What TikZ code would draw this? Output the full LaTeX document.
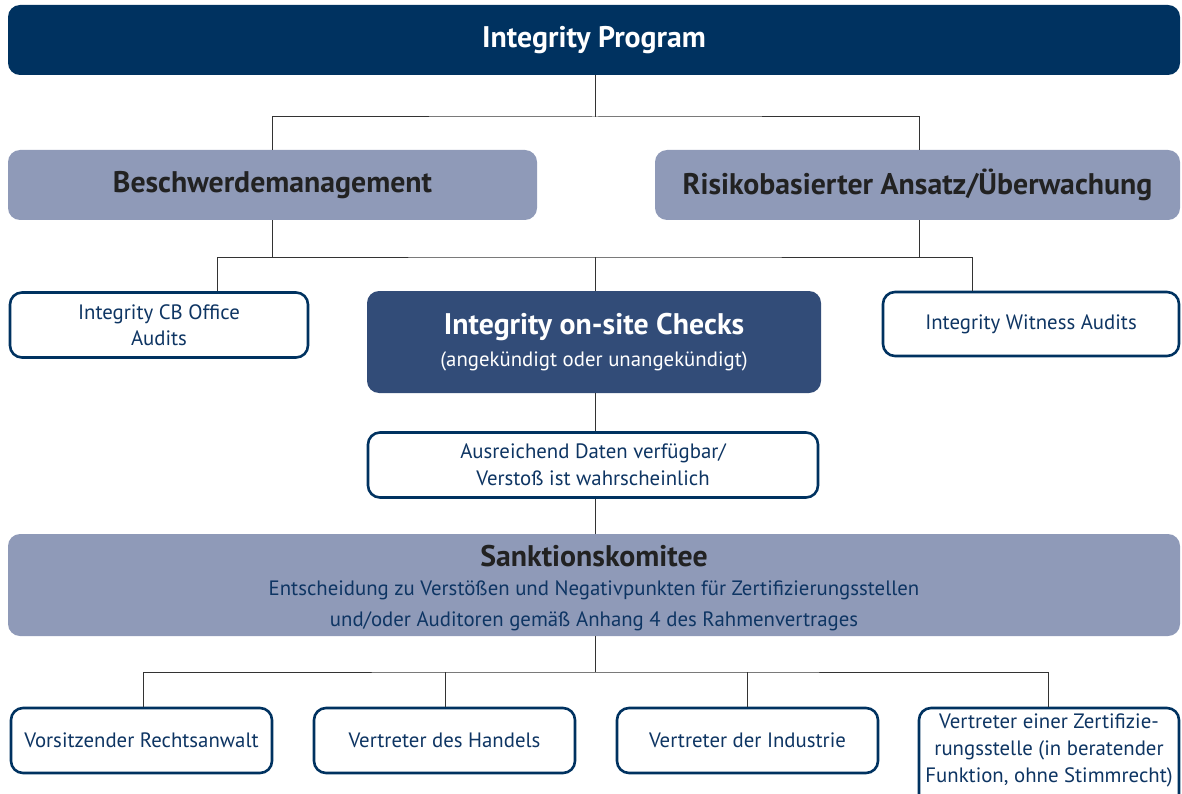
\documentclass[tikz,border=0pt]{standalone}
\usepackage{fontspec}
\setmainfont{PT Sans}
\definecolor{navy}{HTML}{003260}
\definecolor{midnavy}{HTML}{324C78}
\definecolor{grayblue}{HTML}{8F9AB8}
\definecolor{txtnavy}{HTML}{0E3563}
\definecolor{txtdark}{HTML}{222222}
\definecolor{linec}{HTML}{333333}
\tikzset{
  x=1pt, y=-1pt,
  box/.style={rounded corners=12pt, inner sep=0pt, align=center, anchor=center},
  darkbox/.style={box, fill=navy, text=white},
  midbox/.style={box, fill=midnavy, text=white},
  graybox/.style={box, fill=grayblue, text=txtdark},
  whitebox/.style={box, draw=navy, line width=2.6pt, fill=white, text=txtnavy},
  conn/.style={draw=linec, line width=1pt},
  bigfont/.style={font=\fontsize{29.8}{34}\selectfont\bfseries},
  smallfont/.style={font=\fontsize{20.8}{26}\selectfont},
}
\begin{document}
\begin{tikzpicture}
\useasboundingbox (0,0) rectangle (1182,794);
\clip (0,0) rectangle (1182,794);
% top
\node[darkbox, minimum width=1172pt, minimum height=70pt, font=\fontsize{29.8}{34}\selectfont\bfseries] (prog) at (594,40) {Integrity Program};
\node[graybox, minimum width=529pt, minimum height=70pt, bigfont] (beschw) at (272.5,185) {Beschwerdemanagement};
\node[graybox, minimum width=525pt, minimum height=70pt, bigfont] (risk) at (917.5,185) {Risikobasierter Ansatz/Überwachung};
% second level
\node[whitebox, minimum width=298pt, minimum height=65pt, smallfont] (cb) at (159,325) {Integrity CB Office\\Audits};
\node[midbox, minimum width=454pt, minimum height=102pt] (onsite) at (594,342) {};
\node[text=white, bigfont, inner sep=0pt] (onsitet) at (594,327) {Integrity on-site Checks};
\node[text=white, smallfont, inner sep=0pt] (onsites) at (594,361) {(angekündigt oder unangekündigt)};
\node[whitebox, minimum width=296pt, minimum height=64pt, smallfont] (wit) at (1031,324) {Integrity Witness Audits};
\node[whitebox, minimum width=450pt, minimum height=65pt, font=\fontsize{20.8}{27}\selectfont] (daten) at (593,465) {Ausreichend Daten verfügbar/\\Verstoß ist wahrscheinlich};
% sanktion
\node[graybox, minimum width=1172pt, minimum height=102pt] (sank) at (594,585) {};
\node[text=txtdark, bigfont, inner sep=0pt] (sankt) at (594,556) {Sanktionskomitee};
\node[text=txtnavy, font=\fontsize{20.8}{31}\selectfont, align=center, inner sep=0pt] (sanks) at (594,606) {Entscheidung zu Verstößen und Negativpunkten für Zertifizierungsstellen\\und/oder Auditoren gemäß Anhang 4 des Rahmenvertrages};
% bottom
\node[whitebox, minimum width=261pt, minimum height=65pt, smallfont] (b1) at (141.5,740.5) {Vorsitzender Rechtsanwalt};
\node[whitebox, minimum width=261pt, minimum height=65pt, smallfont] (b2) at (444.5,740.5) {Vertreter des Handels};
\node[whitebox, minimum width=261pt, minimum height=65pt, smallfont] (b3) at (747.5,740.5) {Vertreter der Industrie};
\draw[navy, line width=2.6pt, rounded corners=12pt, fill=white] (919,800) -- (919,708) -- (1179,708) -- (1179,800);
\node[text=txtnavy, font=\fontsize{20.8}{27}\selectfont, align=center, inner sep=0pt] (b4) at (1049,750) {Vertreter einer Zertifizie-\\rungsstelle (in beratender\\Funktion, ohne Stimmrecht)};
% connectors
\coordinate (j1) at (595,117);
\coordinate (j2) at (595,257);
\coordinate (j3) at (595,672);
\draw[conn] (prog.south -| j1) -- (j1);
\draw[conn] (beschw.north -| 272,0) |- (j1) -| (risk.north -| 919,0);
\draw[conn] (beschw.south -| 272,0) -- (272,257);
\draw[conn] (risk.south -| 919,0) -- (919,257);
\draw[conn] (cb.north -| 217,0) |- (j2) -| (wit.north -| 972,0);
\draw[conn] (j2) -- (onsite.north -| j2);
\draw[conn] (onsite.south -| j2) -- (daten.north -| j2);
\draw[conn] (daten.south -| j2) -- (sank.north -| j2);
\draw[conn] (sank.south -| j3) -- (j3);
\draw[conn] (b1.north -| 143,0) |- (j3) -| (1048,707);
\draw[conn] (b2.north -| 445,0) -- (445,672);
\draw[conn] (b3.north -| 747,0) -- (747,672);
\end{tikzpicture}
\end{document}
